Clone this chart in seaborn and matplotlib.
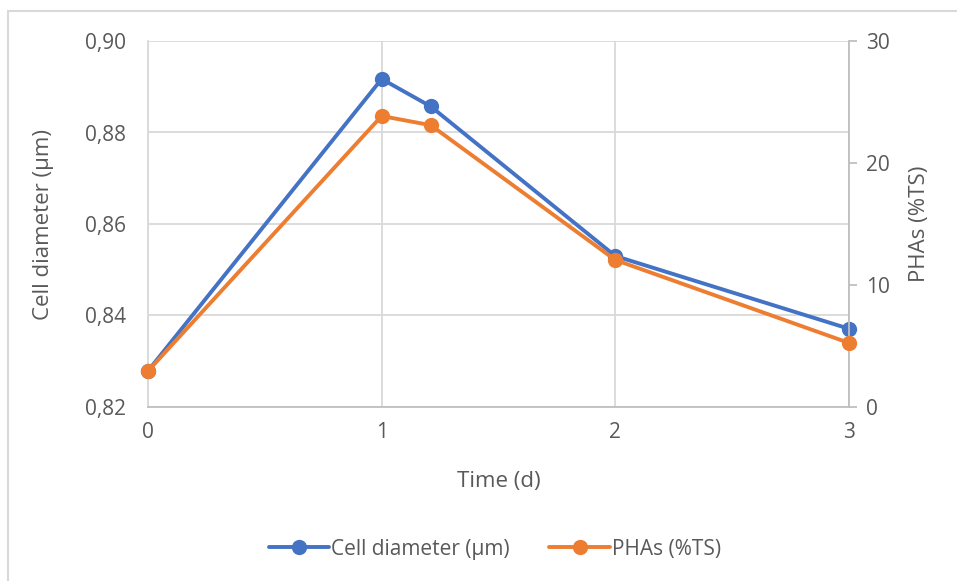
import matplotlib
matplotlib.use("Agg")
import matplotlib.pyplot as plt
import seaborn as sns
import pandas as pd
from matplotlib.ticker import FuncFormatter
from matplotlib.lines import Line2D

time_d = [0, 1, 1.21, 2, 3]
cell_diameter = [0.8279, 0.8917, 0.8857, 0.8530, 0.8371]
phas = [2.95, 23.85, 23.1, 12.05, 5.25]

left_ticks = [0.82, 0.84, 0.86, 0.88, 0.90]
right_ticks = [0, 10, 20, 30]
x_ticks = [0, 1, 2, 3]

blue = "#4472C4"
orange = "#ED7D31"
text_c = "#595959"
grid_c = "#D9D9D9"

sns.set_theme(style="white")
plt.rcParams["font.family"] = ["Open Sans", "DejaVu Sans"]

df = pd.DataFrame({"time": time_d, "cell": cell_diameter, "pha": phas})

fig = plt.figure(figsize=(9.57, 5.81), dpi=100)
ax = fig.add_axes([148/957, 1-407/581, (849-148)/957, (407-41)/581])
ax2 = ax.twinx()

sns.lineplot(data=df, x="time", y="cell", ax=ax, color=blue, marker="o",
             markersize=11, linewidth=2.8, markeredgewidth=0, zorder=3, clip_on=False)
sns.lineplot(data=df, x="time", y="pha", ax=ax2, color=orange, marker="o",
             markersize=11, linewidth=2.8, markeredgewidth=0, zorder=3, clip_on=False)

ax.set_xlim(0, 3)
ax.set_ylim(0.82, 0.90)
ax2.set_ylim(0, 30)
ax.set_xticks(x_ticks)
ax.set_yticks(left_ticks)
ax2.set_yticks(right_ticks)
ax.yaxis.set_major_formatter(FuncFormatter(lambda v, p: f"{v:.2f}".replace(".", ",")))

ax.grid(True, color=grid_c, linewidth=1.3)
ax.set_axisbelow(True)
ax2.grid(False)

for a in (ax, ax2):
    for s in a.spines.values():
        s.set_visible(False)
ax.spines["bottom"].set_visible(True)
ax.spines["bottom"].set_color("#BFBFBF")
ax.spines["bottom"].set_linewidth(1.3)
ax2.spines["right"].set_visible(True)
ax2.spines["right"].set_color("#BFBFBF")
ax2.spines["right"].set_linewidth(1.3)
ax.spines["left"].set_visible(True)
ax.spines["left"].set_color(grid_c)
ax.spines["left"].set_linewidth(1.3)

ax.tick_params(axis="both", colors=text_c, labelsize=15, length=0)
ax.tick_params(axis="x", pad=11)
ax.tick_params(axis="y", pad=16)
ax2.tick_params(axis="y", colors=text_c, labelsize=15, length=6, width=1.3,
                direction="out", color="#BFBFBF", pad=6)

ax.set_xlabel("Time (d)", color=text_c, fontsize=16, labelpad=20)
ax.set_ylabel("Cell diameter (µm)", color=text_c, fontsize=16, labelpad=22)
ax2.set_ylabel("PHAs (%TS)", color=text_c, fontsize=16, labelpad=14)

handles = [Line2D([], [], color=blue, marker="o", markersize=11, linewidth=2.8, markeredgewidth=0),
           Line2D([], [], color=orange, marker="o", markersize=11, linewidth=2.8, markeredgewidth=0)]
fig.legend(handles, ["Cell diameter (µm)", "PHAs (%TS)"], loc="center",
           bbox_to_anchor=(0.517, 1-549/581), ncol=2, frameon=False,
           fontsize=15, labelcolor=text_c, handlelength=2.9, handletextpad=0.1,
           columnspacing=1.9)

# chart border (left and top)
fig.add_artist(Line2D([8/957, 8/957], [0, 1-11/581], transform=fig.transFigure,
                      color=grid_c, linewidth=1.5))
fig.add_artist(Line2D([8/957, 1], [1-11/581, 1-11/581], transform=fig.transFigure,
                      color=grid_c, linewidth=1.5))

fig.savefig("out.png", dpi=100)
